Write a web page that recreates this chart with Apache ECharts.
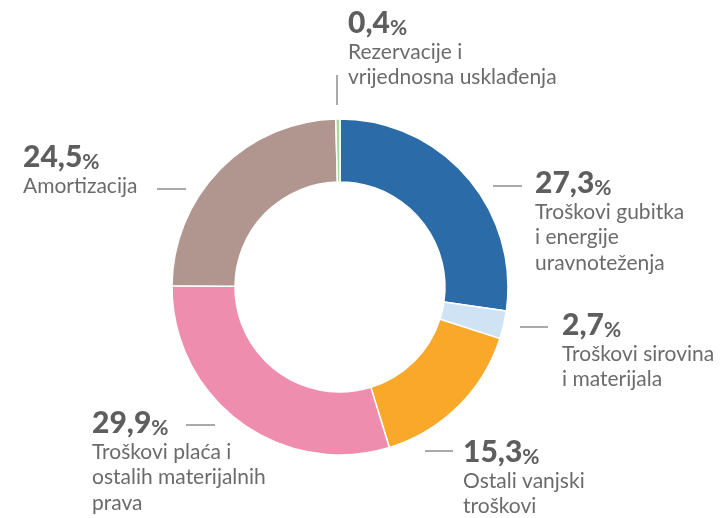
<!DOCTYPE html>
<html><head><meta charset="utf-8">
<script src="https://cdn.jsdelivr.net/npm/echarts@6/dist/echarts.min.js"></script>
<style>html,body{margin:0;padding:0;background:#fff}#c{width:723px;height:518px}</style>
</head><body><div id="c"></div>
<script>
var categories = [
  'Troškovi gubitka\ni energije\nuravnoteženja',
  'Troškovi sirovina\ni materijala',
  'Ostali vanjski\ntroškovi',
  'Troškovi plaća i\nostalih materijalnih\nprava',
  'Amortizacija',
  'Rezervacije i\nvrijednosna usklađenja'
];
var values = [27.3, 2.7, 15.3, 29.9, 24.5, 0.4];
var colors = ['#2a6ba8', '#cfe3f5', '#f9a82a', '#ee8dae', '#b0968e', '#a9d6a6'];

// label placement (layout only)
var labelPos = [
  {x: 535, y: 167, line: [[493,186],[508,186],[522,186]]},
  {x: 562, y: 309, line: [[520,327],[534,327],[548,327]]},
  {x: 463, y: 436, line: [[425,451],[439,451],[453,451]]},
  {x: 92,  y: 407, line: [[186,425],[200,425],[215,425]]},
  {x: 23,  y: 141, line: [[157,189],[171,189],[186,189]]},
  {x: 348, y: 7,   line: [[337,75],[337,90],[337,105]]}
];

var chart = echarts.init(document.getElementById('c'));
var font = 'Lato, "Noto Sans", sans-serif';
chart.setOption({
  animation: false,
  series: [{
    type: 'pie',
    center: [340, 287],
    radius: [105, 168],
    startAngle: 90,
    clockwise: true,
    avoidLabelOverlap: false,
    itemStyle: {borderColor: '#fff', borderWidth: 1.5},
    label: {
      show: true,
      formatter: function (p) {
        var v = p.value.toFixed(1).replace('.', ',');
        return '{v|' + v + '}{p|%}\n{n|' + p.name.split('\n').join('}\n{n|') + '}';
      },
      rich: {
        v: {fontFamily: font, fontWeight: 900, fontSize: 30, color: '#5e5e5e', lineHeight: 32},
        p: {fontFamily: font, fontWeight: 'bold', fontSize: 21, color: '#5e5e5e', lineHeight: 32, verticalAlign: 'bottom'},
        n: {fontFamily: font, fontSize: 21, color: '#6b6b6b', lineHeight: 25.5}
      }
    },
    labelLine: {show: true, lineStyle: {color: '#555', width: 1}},
    labelLayout: function (params) {
      var lp = labelPos[params.dataIndex];
      return {x: lp.x, y: lp.y, align: 'left', verticalAlign: 'top', labelLinePoints: lp.line};
    },
    emphasis: {disabled: true},
    data: categories.map(function (c, i) {
      return {name: c, value: values[i], itemStyle: {color: colors[i]}};
    })
  }]
});
</script></body></html>
